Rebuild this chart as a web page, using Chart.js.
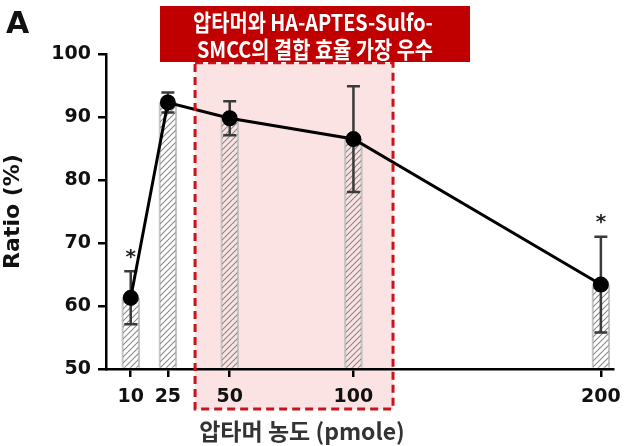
<!DOCTYPE html>
<html>
<head>
<meta charset="utf-8">
<script src="https://cdn.jsdelivr.net/npm/chart.js@4"></script>
<style>
    html, body { margin: 0; padding: 0; background: #fff; }
    #wrap { width: 630px; height: 446px; position: relative; }
</style>
</head>
<body>
<div id="wrap"><canvas id="ratio-chart"></canvas></div>
<script>
// data
const doses = [10, 25, 50, 100, 200];
const ratioMean = [61.3, 92.3, 89.8, 86.5, 63.4];
const ratioSd = [4.2, 1.6, 2.7, 8.4, 7.6];
const significant = [true, false, false, false, true];
const highlightDoses = [36, 116];     // x range of the shaded box
const highlightTop = 98.6;            // y value of the box's top edge

const panelLabel = 'A';
const calloutLines = ['압타머와 HA-APTES-Sulfo-', 'SMCC의 결합 효율 가장 우수'];
const xTitle = '압타머 농도 (pmole)';
const yTitle = 'Ratio (%)';

const latin = "'DejaVu Sans', 'Liberation Sans', sans-serif";
const korean = "'Noto Sans CJK KR', 'Noto Sans', sans-serif";

function hatchPattern() {
    const size = 6;
    const c = document.createElement('canvas');
    c.width = size;
    c.height = size;
    const g = c.getContext('2d');
    g.strokeStyle = '#8a8a8a';
    g.lineWidth = 1.1;
    g.beginPath();
    g.moveTo(0, size); g.lineTo(size, 0);
    g.moveTo(-size / 2, size / 2); g.lineTo(size / 2, -size / 2);
    g.moveTo(size / 2, size * 1.5); g.lineTo(size * 1.5, size / 2);
    g.stroke();
    return g.createPattern(c, 'repeat');
}

// shaded box behind everything, dashed outline on top
function boxRect(chart) {
    const {x, y} = chart.scales;
    const left = x.getPixelForValue(highlightDoses[0]);
    const right = x.getPixelForValue(highlightDoses[1]);
    const top = y.getPixelForValue(highlightTop);
    const bottom = chart.chartArea.bottom + 40;
    return {left, top, w: right - left, h: bottom - top};
}

const highlightBox = {
    id: 'highlightBox',
    beforeDraw(chart) {
        const r = boxRect(chart);
        const ctx = chart.ctx;
        ctx.save();
        ctx.fillStyle = 'rgba(250, 200, 200, 0.5)';
        ctx.fillRect(r.left, r.top, r.w, r.h);
        ctx.restore();
    },
    afterDraw(chart) {
        const r = boxRect(chart);
        const ctx = chart.ctx;
        ctx.save();
        ctx.strokeStyle = '#c8141c';
        ctx.lineWidth = 3;
        ctx.setLineDash([8, 5]);
        ctx.strokeRect(r.left, r.top, r.w, r.h);
        ctx.restore();
    }
};

// error bars + significance stars, drawn right after the bars
const errorBars = {
    id: 'errorBars',
    afterDatasetDraw(chart, args) {
        if (args.meta.type !== 'bar') return;
        const {ctx, scales: {x, y}} = chart;
        ctx.save();
        ctx.strokeStyle = '#3a3a3a';
        ctx.lineWidth = 2.5;
        doses.forEach((d, i) => {
            const px = x.getPixelForValue(d);
            const hi = y.getPixelForValue(ratioMean[i] + ratioSd[i]);
            const lo = y.getPixelForValue(ratioMean[i] - ratioSd[i]);
            ctx.beginPath();
            ctx.moveTo(px, hi); ctx.lineTo(px, lo);
            ctx.moveTo(px - 6.5, hi); ctx.lineTo(px + 6.5, hi);
            ctx.moveTo(px - 6.5, lo); ctx.lineTo(px + 6.5, lo);
            ctx.stroke();
            if (significant[i]) {
                ctx.fillStyle = '#222';
                ctx.font = `bold 20px ${latin}`;
                ctx.textAlign = 'center';
                ctx.textBaseline = 'middle';
                ctx.fillText('*', px, hi - 14);
            }
        });
        ctx.restore();
    }
};

// panel letter, red callout and x title
const labels = {
    id: 'labels',
    afterDraw(chart) {
        const ctx = chart.ctx;
        ctx.save();
        ctx.fillStyle = '#111';
        ctx.font = `bold 30px ${latin}`;
        ctx.textAlign = 'left';
        ctx.textBaseline = 'alphabetic';
        ctx.fillText(panelLabel, 6, 33);

        ctx.fillStyle = '#c00000';
        ctx.fillRect(160, 6, 310, 56);
        ctx.fillStyle = '#fff';
        ctx.font = `bold 23px ${korean}`;
        ctx.textAlign = 'center';
        ctx.textBaseline = 'middle';
        // the callout face is narrower than Noto, squeeze it a little
        ctx.save();
        ctx.translate(313, 22);
        ctx.scale(0.86, 1);
        ctx.fillText(calloutLines[0], 0, 0);
        ctx.restore();
        ctx.save();
        ctx.translate(315, 49);
        ctx.scale(0.86, 1);
        ctx.fillText(calloutLines[1], 0, 0);
        ctx.restore();

        ctx.fillStyle = '#333';
        ctx.font = `600 23px ${korean}`;
        ctx.fillText(xTitle, 302, 431);
        ctx.restore();
    }
};

const config = {
    type: 'bar',
    data: {
        datasets: [
            {
                type: 'line',
                data: doses.map((d, i) => ({x: d, y: ratioMean[i]})),
                borderColor: '#000',
                borderWidth: 3,
                pointRadius: 6.5,
                pointBackgroundColor: '#000',
                pointBorderColor: '#000',
                tension: 0,
                order: 0
            },
            {
                type: 'bar',
                data: doses.map((d, i) => ({x: d, y: ratioMean[i]})),
                backgroundColor: hatchPattern(),
                borderColor: '#c4c4c4',
                borderWidth: 1.5,
                barThickness: 18,
                base: 50,
                order: 1
            }
        ]
    },
    options: {
        responsive: true,
        maintainAspectRatio: false,
        animation: false,
        layout: {padding: {top: 54, right: 12, left: 0, bottom: 0}},
        plugins: {
            legend: {display: false},
            tooltip: {enabled: false}
        },
        scales: {
            x: {
                type: 'linear',
                min: 0,
                max: 205,
                offset: false,
                afterBuildTicks: (scale) => {
                    scale.ticks = doses.map(v => ({value: v}));
                },
                afterFit: (scale) => { scale.height = 77; },
                border: {display: true, color: '#000', width: 2.5},
                grid: {offset: false, drawOnChartArea: false, drawTicks: true, tickLength: 8, color: '#000', lineWidth: 2.5},
                ticks: {
                    color: '#111',
                    padding: 9,
                    maxRotation: 0,
                    autoSkip: false,
                    font: {family: latin, size: 19, weight: 'bold'}
                }
            },
            y: {
                min: 50,
                max: 100,
                afterFit: (scale) => { scale.width = 106; },
                border: {display: true, color: '#000', width: 2.5},
                grid: {drawOnChartArea: false, drawTicks: true, tickLength: 8, color: '#000', lineWidth: 2.5},
                ticks: {
                    stepSize: 10,
                    color: '#111',
                    padding: 7,
                    font: {family: latin, size: 19, weight: 'bold'}
                },
                title: {
                    display: true,
                    text: yTitle,
                    color: '#111',
                    padding: {top: 0, bottom: 10},
                    font: {family: latin, size: 22, weight: 'bold'}
                }
            }
        }
    },
    plugins: [highlightBox, errorBars, labels]
};

new Chart(document.getElementById('ratio-chart'), config);
</script>
</body>
</html>
